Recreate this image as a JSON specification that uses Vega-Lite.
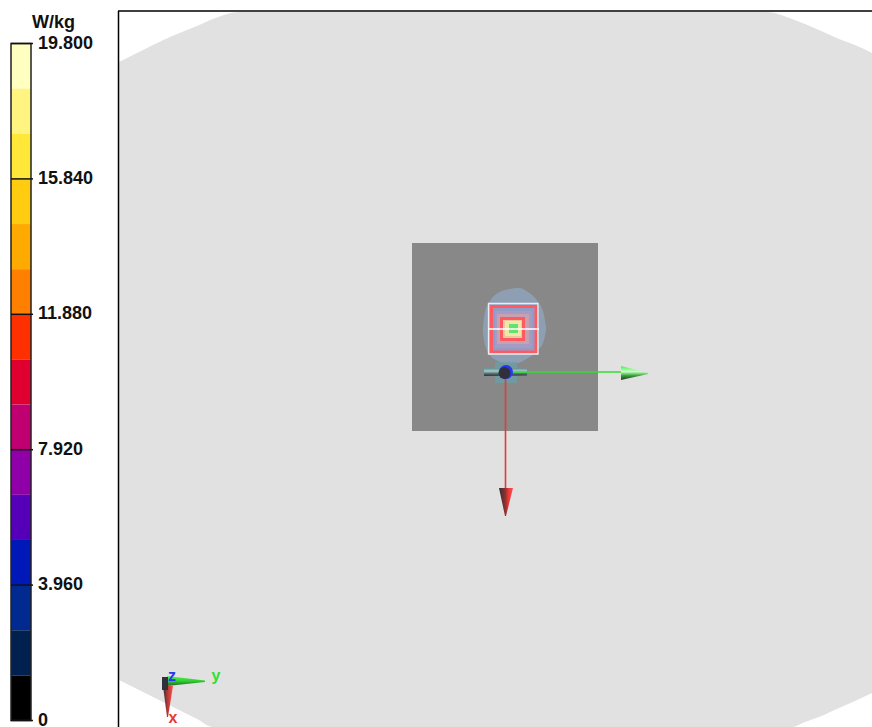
{
"$schema":"https://vega.github.io/schema/vega-lite/v6.json",
"width":872,"height":727,"padding":0,"autosize":{"type":"none"},"background":"white",
"config":{"view":{"stroke":null}},
"datasets":{
"phantom":[{"x":119,"y":62,"y2":680,"part":"phantom"},{"x":135,"y":54,"y2":688,"part":"phantom"},{"x":153,"y":45,"y2":697,"part":"phantom"},{"x":177,"y":34,"y2":709,"part":"phantom"},{"x":197,"y":26,"y2":719,"part":"phantom"},{"x":213,"y":19,"y2":727,"part":"phantom"},{"x":240,"y":12,"y2":727,"part":"phantom"},{"x":767,"y":12,"y2":727,"part":"phantom"},{"x":792,"y":19,"y2":727,"part":"phantom"},{"x":805,"y":24,"y2":722,"part":"phantom"},{"x":819,"y":30,"y2":717,"part":"phantom"},{"x":839,"y":39,"y2":708,"part":"phantom"},{"x":855,"y":45,"y2":701,"part":"phantom"},{"x":872,"y":53,"y2":693,"part":"phantom"}],
"plate":[{"x":412,"x2":598,"y":243,"y2":431,"part":"plate"}],
"halo":[{"x":483,"y":328,"y2":333,"part":"halo"},{"x":485,"y":312,"y2":345,"part":"halo"},{"x":490,"y":301,"y2":355,"part":"halo"},{"x":498,"y":293,"y2":361,"part":"halo"},{"x":510,"y":289,"y2":364,"part":"halo"},{"x":518,"y":288,"y2":363,"part":"halo"},{"x":528,"y":292,"y2":358,"part":"halo"},{"x":538,"y":302,"y2":350,"part":"halo"},{"x":544,"y":315,"y2":340,"part":"halo"},{"x":546,"y":328,"y2":331,"part":"halo"}],
"sar":[{"x":488,"x2":538,"y":303,"y2":354,"part":"s0"},{"x":491,"x2":536,"y":306,"y2":352,"part":"s1"},{"x":495,"x2":532,"y":311,"y2":348,"part":"s2"},{"x":497,"x2":529,"y":314,"y2":344,"part":"s3"},{"x":501,"x2":524,"y":318,"y2":340,"part":"s4"},{"x":505,"x2":521,"y":321,"y2":336,"part":"s5"},{"x":509,"x2":518,"y":324,"y2":333,"part":"s6"}],
"red":[{"x":491.5,"x2":536,"y":306.5,"y2":352,"part":"contour"},{"x":501.5,"x2":523.5,"y":318.5,"y2":339.5,"part":"contour"}],
"white":[{"x":488.5,"x2":538,"y":303.5,"y2":354,"part":"outline"}],
"whiteline":[{"x":488,"x2":539,"y":329,"y2":329,"part":"outline"}],
"teal":[{"x":495,"x2":517,"y":362,"y2":383,"part":"teal"}],
"axes":[{"x":512,"x2":622,"y":372,"y2":372,"part":"green"},{"x":505.5,"x2":505.5,"y":378,"y2":490,"part":"redaxis"}],
"cyl":[{"x":484,"y":368,"y2":376},{"x":527,"y":368.5,"y2":375.5}],
"ball":[{"x":506,"y":372,"part":"blue","d":196},{"x":504.5,"y":373,"part":"dark","d":144}],
"greenhead":[{"x":621,"y":366,"y2":380},{"x":648,"y":373,"y2":374}],
"redhead":[{"y":488,"x":499,"x2":513},{"y":516,"x":505,"x2":506}],
"miniOrigin":[{"x":162,"x2":168,"y":677,"y2":690,"part":"dark"}],
"miniGreen":[{"x":167,"y":676,"y2":686},{"x":205,"y":680.5,"y2":682}],
"miniRed":[{"y":686,"x":163,"x2":173},{"y":717,"x":167,"x2":168}],
"miniText":[{"x":172,"y":676,"t":"z","part":"blue"},{"x":216,"y":676,"t":"y","part":"green"},{"x":173,"y":718,"t":"x","part":"redaxis"}],
"frame":[{"x":118.5,"x2":118.5,"y":11,"y2":727,"part":"frame"},{"x":118,"x2":872,"y":11,"y2":11,"part":"frame"}],
"bins":[{"lo":18.48,"hi":19.8,"bin":"b15"},{"lo":17.16,"hi":18.48,"bin":"b14"},{"lo":15.84,"hi":17.16,"bin":"b13"},{"lo":14.52,"hi":15.84,"bin":"b12"},{"lo":13.2,"hi":14.52,"bin":"b11"},{"lo":11.88,"hi":13.2,"bin":"b10"},{"lo":10.56,"hi":11.88,"bin":"b09"},{"lo":9.24,"hi":10.56,"bin":"b08"},{"lo":7.92,"hi":9.24,"bin":"b07"},{"lo":6.6,"hi":7.92,"bin":"b06"},{"lo":5.28,"hi":6.6,"bin":"b05"},{"lo":3.96,"hi":5.28,"bin":"b04"},{"lo":2.64,"hi":3.96,"bin":"b03"},{"lo":1.32,"hi":2.64,"bin":"b02"},{"lo":0,"hi":1.32,"bin":"b01"}],
"ticks":[{"v":19.8,"t":"19.800"},{"v":15.84,"t":"15.840"},{"v":11.88,"t":"11.880"},{"v":7.92,"t":"7.920"},{"v":3.96,"t":"3.960"},{"v":0,"t":"0"}],
"unit":[{"v":19.8,"t":"W/kg"}]
},
"layer":[
{
"encoding":{
"x":{"field":"x","type":"quantitative","scale":{"domain":[0,872],"zero":false,"nice":false},"axis":null},
"y":{"field":"y","type":"quantitative","scale":{"domain":[727,0],"zero":false,"nice":false},"axis":null},
"color":{"field":"part","type":"nominal","legend":null,"scale":{
"domain":["phantom","plate","halo","s0","s1","s2","s3","s4","s5","s6","contour","outline","teal","green","redaxis","blue","dark","frame"],
"range":["#e1e1e1","#888888","#8e9fb4","#9aa6c4","#929ac8","#a49cc2","#c6a2b0","#e6cc9c","#f0e6a8","#62e270","#ff5a62","#e6f0f0","#6f9ca4","#30e030","#e83838","#2838f0","#30303a","#000000"]}}
},
"layer":[
{"data":{"name":"phantom"},"mark":{"type":"area","interpolate":"monotone"},"encoding":{"y2":{"field":"y2"}}},
{"data":{"name":"plate"},"mark":{"type":"rect"},"encoding":{"x2":{"field":"x2"},"y2":{"field":"y2"}}},
{"data":{"name":"halo"},"mark":{"type":"area","interpolate":"monotone"},"encoding":{"y2":{"field":"y2"}}},
{"data":{"name":"sar"},"mark":{"type":"rect"},"encoding":{"x2":{"field":"x2"},"y2":{"field":"y2"}}},
{"data":{"name":"red"},"mark":{"type":"rect","filled":false,"strokeWidth":3},"encoding":{"x2":{"field":"x2"},"y2":{"field":"y2"}}},
{"data":{"name":"white"},"mark":{"type":"rect","filled":false,"strokeWidth":1.3},"encoding":{"x2":{"field":"x2"},"y2":{"field":"y2"}}},
{"data":{"name":"whiteline"},"mark":{"type":"rule","strokeWidth":1.5,"color":"#ffffff"},"encoding":{"x2":{"field":"x2"},"y2":{"field":"y2"},"color":null}},
{"data":{"name":"teal"},"mark":{"type":"rect","opacity":0.85},"encoding":{"x2":{"field":"x2"},"y2":{"field":"y2"}}},
{"data":{"name":"cyl"},"mark":{"type":"area","color":{"gradient":"linear","x1":0,"y1":0,"x2":0,"y2":1,"stops":[{"offset":0,"color":"#5f8f8f"},{"offset":0.4,"color":"#a8c8c8"},{"offset":0.7,"color":"#507070"},{"offset":1,"color":"#303038"}]}},"encoding":{"y2":{"field":"y2"},"color":null}},
{"data":{"name":"axes"},"mark":{"type":"rule","strokeWidth":1.6},"encoding":{"x2":{"field":"x2"},"y2":{"field":"y2"}}},
{"data":{"name":"ball"},"mark":{"type":"point","filled":true,"opacity":1,"shape":"circle"},"encoding":{"size":{"field":"d","type":"quantitative","scale":null}}},
{"data":{"name":"greenhead"},"mark":{"type":"area","color":{"gradient":"linear","x1":0,"y1":0,"x2":0,"y2":1,"stops":[{"offset":0,"color":"#40f040"},{"offset":0.4,"color":"#c8ffc8"},{"offset":0.7,"color":"#30a030"},{"offset":1,"color":"#303030"}]}},"encoding":{"y2":{"field":"y2"},"color":null}},
{"data":{"name":"redhead"},"mark":{"type":"area","orient":"horizontal","color":{"gradient":"linear","x1":0,"y1":0,"x2":1,"y2":0,"stops":[{"offset":0,"color":"#303030"},{"offset":0.45,"color":"#903030"},{"offset":0.7,"color":"#f03838"},{"offset":1,"color":"#ff5050"}]}},"encoding":{"x2":{"field":"x2"},"color":null}},
{"data":{"name":"miniGreen"},"mark":{"type":"area","color":{"gradient":"linear","x1":0,"y1":0,"x2":0,"y2":1,"stops":[{"offset":0,"color":"#50f050"},{"offset":0.5,"color":"#30d030"},{"offset":1,"color":"#206030"}]}},"encoding":{"y2":{"field":"y2"},"color":null}},
{"data":{"name":"miniRed"},"mark":{"type":"area","orient":"horizontal","color":{"gradient":"linear","x1":0,"y1":0,"x2":1,"y2":0,"stops":[{"offset":0,"color":"#303030"},{"offset":0.5,"color":"#c03838"},{"offset":1,"color":"#ff5050"}]}},"encoding":{"x2":{"field":"x2"},"color":null}},
{"data":{"name":"miniOrigin"},"mark":{"type":"rect"},"encoding":{"x2":{"field":"x2"},"y2":{"field":"y2"}}},
{"data":{"name":"miniText"},"mark":{"type":"text","font":"Liberation Sans","fontWeight":"bold","fontSize":16,"align":"center","baseline":"middle"},"encoding":{"text":{"field":"t"}}},
{"data":{"name":"frame"},"mark":{"type":"rule","strokeWidth":1.5},"encoding":{"x2":{"field":"x2"},"y2":{"field":"y2"}}}
]
},
{
"data":{"name":"bins"},
"encoding":{
"y":{"field":"lo","type":"quantitative","scale":{"domain":[0,19.8],"range":[720.5,43.5],"nice":false,"zero":true},"axis":null}
},
"layer":[
{"mark":{"type":"rect"},"encoding":{"y2":{"field":"hi"},"x":{"datum":0,"type":"quantitative","scale":{"domain":[0,1],"range":[11,31]},"axis":null},"x2":{"datum":1},"color":{"field":"bin","type":"nominal","legend":null,"scale":{"domain":["b15","b14","b13","b12","b11","b10","b09","b08","b07","b06","b05","b04","b03","b02","b01"],"range":["#ffffc0","#fff480","#ffe838","#ffcc10","#ffaa00","#ff7f00","#ff3000","#e00030","#c00070","#9000a8","#5500b8","#0018b8","#002a90","#002050","#000000"]}}}},
{"mark":{"type":"rect","filled":false,"stroke":"#222222","strokeWidth":1.5},"transform":[{"aggregate":[{"op":"min","field":"lo","as":"lo"},{"op":"max","field":"hi","as":"hi"}]}],"encoding":{"y2":{"field":"hi"},"x":{"datum":0,"type":"quantitative"},"x2":{"datum":1}}},
{"data":{"name":"ticks"},"mark":{"type":"rule","stroke":"#111111","strokeWidth":1.5},"encoding":{"y":{"field":"v","type":"quantitative"},"x":{"datum":0,"type":"quantitative"},"x2":{"datum":1.1}}},
{"data":{"name":"ticks"},"mark":{"type":"text","align":"left","baseline":"middle","font":"Liberation Sans","fontWeight":"bold","fontSize":18,"fill":"#111111"},"encoding":{"y":{"field":"v","type":"quantitative"},"x":{"datum":1.35,"type":"quantitative"},"text":{"field":"t"}}},
{"data":{"name":"unit"},"mark":{"type":"text","align":"left","baseline":"middle","dy":-21,"font":"Liberation Sans","fontWeight":"bold","fontSize":18,"fill":"#111111"},"encoding":{"y":{"field":"v","type":"quantitative"},"x":{"datum":1.05,"type":"quantitative"},"text":{"field":"t"}}}
]
}
],
"resolve":{"scale":{"x":"independent","y":"independent","color":"independent"}}
}
